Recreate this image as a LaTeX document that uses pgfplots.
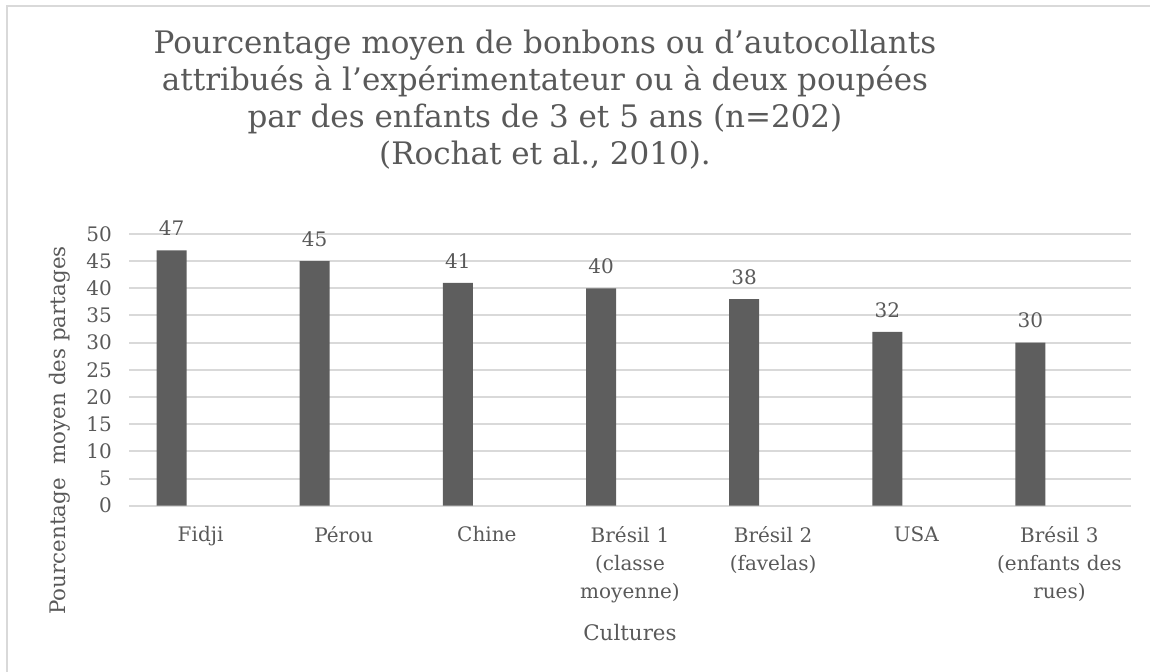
\documentclass[border=0pt]{standalone}
\usepackage{fontspec}
\setmainfont{DejaVu Serif}
\usepackage{pgfplots}
\pgfplotsset{compat=1.18}
\definecolor{bargray}{HTML}{5E5E5E}
\definecolor{txtgray}{HTML}{595959}
\definecolor{gridgray}{HTML}{D9D9D9}

\begin{document}
\begin{tikzpicture}
\useasboundingbox (0pt,0pt) rectangle (575pt,336pt);
% chart border (top and left only visible)
\draw[gridgray, line width=1pt] (3.5pt,0pt) -- (3.5pt,333pt) -- (575pt,333pt);
\node[txtgray, align=center, font=\fontsize{15.5}{18.5}\selectfont] at (272.5pt,286pt)
  {Pourcentage moyen de bonbons ou d'autocollants\\
   attribués à l'expérimentateur ou à deux poupées\\
   par des enfants de 3 et 5 ans (n=202)\\
   (Rochat et al., 2010).};
\begin{axis}[
  at={(64.5pt,83.15pt)}, anchor=south west,
  scale only axis,
  width=501pt, height=135.85pt,
  xmin=-0.5, xmax=6.5,
  ymin=0, ymax=50,
  ytick={0,5,...,50},
  xtick={0,...,6},
  xticklabels={Fidji, Pérou, Chine, Brésil 1\\(classe\\moyenne), Brésil 2\\(favelas), USA, Brésil 3\\(enfants des\\rues)},
  x tick label style={align=center, text width=75pt, font=\fontsize{10}{14}\selectfont, text=txtgray, yshift=-7pt},
  y tick label style={font=\fontsize{10}{11}\selectfont, text=txtgray, xshift=-5pt},
  /pgf/number format/assume math mode=true,
  major tick length=0pt,
  axis lines*=left,
  y axis line style={draw=none},
  x axis line style={gridgray, line width=1pt},
  ymajorgrids,
  grid style={gridgray, line width=1pt},
  ylabel={Pourcentage\ \ moyen des partages},
  ylabel style={at={(axis description cs:-0.0689,0.277)}, anchor=center, font=\fontsize{10.7}{12}\selectfont, text=txtgray},
  xlabel={Cultures},
  xlabel style={at={(axis description cs:0.5,-0.4685)}, anchor=center, font=\fontsize{10.7}{12}\selectfont, text=txtgray},
  ybar, bar width=15pt, bar shift=-14.5pt,
  nodes near coords,
  every node near coord/.append style={anchor=center, yshift=11pt, font=\fontsize{10}{11}\selectfont, text=txtgray},
  clip=false,
]
\addplot[fill=bargray, draw=none] coordinates {
  (0,47) (1,45) (2,41) (3,40) (4,38) (5,32) (6,30)
};
\end{axis}
\end{tikzpicture}
\end{document}
